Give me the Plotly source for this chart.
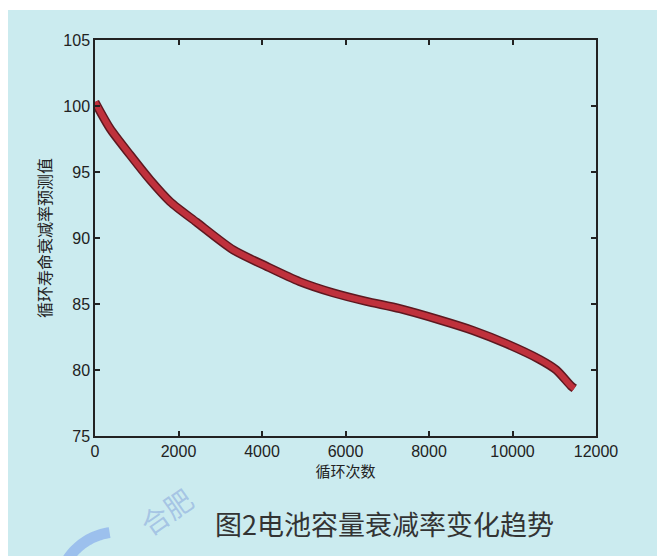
import numpy as np
import plotly.graph_objects as go

# Data
cycles = [0, 360, 840, 1320, 1800, 2430, 3310, 4110, 4900, 5700, 6500, 7300,
          8250, 9050, 9850, 10650, 11050, 11400, 11480]
capacity = [100.3, 98.3, 96.3, 94.4, 92.75, 91.2, 89.1, 87.85, 86.7, 85.85, 85.2, 84.65,
            83.8, 83.0, 82.0, 80.8, 80.0, 78.8, 78.6]

x_ticks = [0, 2000, 4000, 6000, 8000, 10000, 12000]
y_ticks = [75, 80, 85, 90, 95, 100, 105]

x_title = "循环次数"
y_title = "循环寿命衰减率预测值"
caption = "图2电池容量衰减率变化趋势"
watermark = "合肥"

OFF = 8  # page body margin
W, H = 665 - OFF, 556 - OFF
L, T = 95 - OFF, 40 - OFF
R = W - (596 - OFF)
B = H - (436 - OFF)
pw, ph = W - L - R, H - T - B

def px_x(p):
    return (p - OFF - L) / pw

def px_y(p):
    return (H - B - (p - OFF)) / ph

bg = "rgb(203,235,239)"
tick_font = dict(family="Liberation Sans Narrow, Liberation Sans, Arial", size=16, color="#222")

# decorative logo arc of the watermark (bottom-left)
ang = np.linspace(np.radians(205), np.radians(262), 30)
ax_ = 118 + 60 * np.cos(ang)
ay_ = 592 + 60 * np.sin(ang)
arc_path = "M " + " L ".join(f"{px_x(a):.4f},{px_y(b):.4f}" for a, b in zip(ax_, ay_))

fig = go.Figure()
fig.add_trace(go.Scatter(x=cycles, y=capacity, mode="lines",
                         line=dict(color="#5e1820", width=9, shape="spline", smoothing=0.7),
                         hoverinfo="skip", showlegend=False))
fig.add_trace(go.Scatter(x=cycles, y=capacity, mode="lines",
                         line=dict(color="#bf313c", width=6, shape="spline", smoothing=0.7),
                         showlegend=False))

fig.update_layout(
    width=W, height=H,
    margin=dict(l=L, r=R, t=T, b=B),
    paper_bgcolor=bg,
    plot_bgcolor="rgba(0,0,0,0)",
    showlegend=False,
    shapes=[
        dict(type="rect", xref="paper", yref="paper",
             x0=px_x(0), x1=px_x(700), y0=px_y(10), y1=px_y(0),
             fillcolor="white", line=dict(width=0), layer="below"),
        dict(type="path", xref="paper", yref="paper", path=arc_path,
             line=dict(color="rgba(110,150,235,0.5)", width=11), layer="below"),
    ],
    annotations=[
        dict(text=caption, xref="paper", yref="paper", x=px_x(384), y=px_y(523),
             showarrow=False, xanchor="center", yanchor="middle",
             font=dict(family="Noto Sans CJK SC", size=27, color="#333333")),
        dict(text=watermark, xref="paper", yref="paper", x=px_x(166), y=px_y(511),
             showarrow=False, textangle=-35, xanchor="center", yanchor="middle",
             font=dict(family="Noto Sans CJK SC", size=28, color="rgba(120,150,215,0.45)")),
    ],
)

fig.update_xaxes(range=[0, 12000], tickvals=x_ticks, ticktext=[str(v) for v in x_ticks],
                 showgrid=False, zeroline=False, showline=True, linecolor="#222", linewidth=1.5,
                 mirror="allticks", ticks="inside", ticklen=5, tickcolor="#222", tickwidth=1.5,
                 tickfont=tick_font,
                 title=dict(text=x_title, standoff=2,
                            font=dict(family="Noto Sans CJK SC", size=15, color="#222")))
fig.update_yaxes(range=[75, 105], tickvals=y_ticks, ticktext=[str(v) for v in y_ticks],
                 showgrid=False, zeroline=False, showline=True, linecolor="#222", linewidth=1.5,
                 mirror="allticks", ticks="inside", ticklen=5, tickcolor="#222", tickwidth=1.5,
                 tickfont=tick_font,
                 title=dict(text=y_title, standoff=8,
                            font=dict(family="Noto Sans CJK SC", size=16, color="#222")))

fig.write_html("out.html")
